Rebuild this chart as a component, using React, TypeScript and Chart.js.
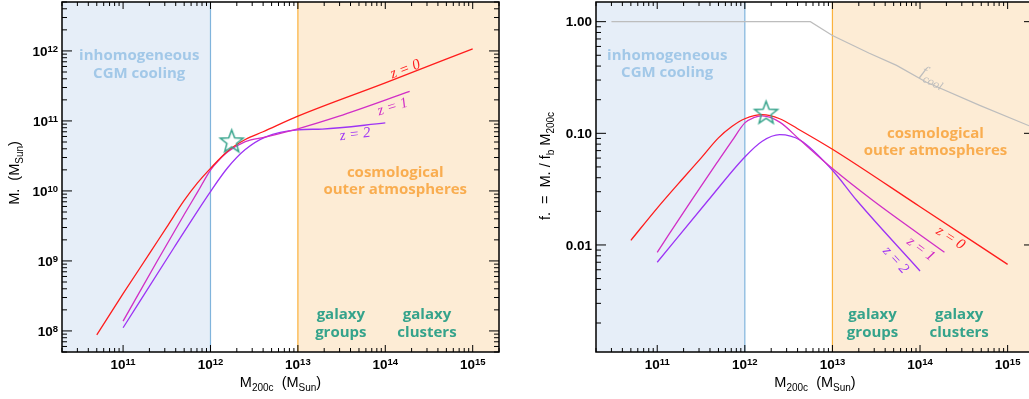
import { useEffect, useRef } from "react";
import { Chart, registerables } from "chart.js";

Chart.register(...registerables);

// ---------------------------------------------------------------------------
// Data
// ---------------------------------------------------------------------------

// Halo mass range shown on both panels (M_200c, M_Sun)
const X_MIN = 2e10;
const X_MAX = 2e15;

// Regime boundaries (M_Sun)
const CGM_EDGE = 1e12;
const GROUP_EDGE = 1e13;

// Left panel: condensed mass M* (M_Sun) vs halo mass, per redshift
const massZ0 = [5e10, 1e11, 2e11, 3.16e11, 5e11, 7.1e11, 1e12, 1.58e12, 2.5e12, 4e12, 1e13, 1e14, 1e15];
const mStarZ0 = [8.8e7, 3.4e8, 1.27e9, 3.05e9, 7.3e9, 1.3e10, 2.1e10, 3.72e10, 5.42e10, 7.0e10, 1.17e11, 3.5e11, 1.07e12];
const massZ1 = [1e11, 2.45e11, 5e11, 7.1e11, 1e12, 1.26e12, 1.58e12, 2.5e12, 4.3e12, 1e13, 2.9e13, 1.9e14];
const mStarZ1 = [1.38e8, 9.9e8, 4.6e9, 9.6e9, 1.99e10, 2.78e10, 3.62e10, 5.07e10, 5.92e10, 7.73e10, 1.16e11, 2.64e11];
const massZ2 = [1e11, 3.8e11, 1e12, 1.58e12, 2.5e12, 4.3e12, 1e13, 1.9e13, 1e14];
const mStarZ2 = [1.11e8, 1.53e9, 9.8e9, 2.16e10, 3.9e10, 5.92e10, 7.46e10, 7.66e10, 9.35e10];

// Right panel: f* = M* / (f_b M_200c), per redshift
const fMassZ0 = [5e10, 1e11, 2e11, 3.16e11, 5e11, 7.1e11, 1e12, 1.58e12, 2.5e12, 4e12, 1e13, 1e14, 1e15];
const fStarZ0 = [0.011, 0.0214, 0.04, 0.06, 0.091, 0.115, 0.135, 0.147, 0.135, 0.11, 0.072, 0.022, 0.0067];
const fMassZ1 = [1e11, 2.45e11, 5e11, 7.1e11, 1e12, 1.26e12, 1.58e12, 2.5e12, 4.3e12, 1e13, 2.9e13, 1.9e14];
const fStarZ1 = [0.0086, 0.025, 0.057, 0.085, 0.124, 0.138, 0.143, 0.126, 0.0867, 0.0483, 0.025, 0.0086];
const fMassZ2 = [1e11, 3.8e11, 1e12, 1.58e12, 2.5e12, 4.3e12, 1e13, 1.9e13, 1e14];
const fStarZ2 = [0.007, 0.025, 0.0614, 0.085, 0.0973, 0.0867, 0.0467, 0.025, 0.00585];

// Cooling fraction f_cool
const coolMass = [3e10, 5.6e12, 1e13, 2.6e13, 5.4e13, 1.17e14, 4.8e14, 2e15];
const coolFrac = [1, 1, 0.753, 0.524, 0.406, 0.288, 0.178, 0.112];

// Milky Way marker
const mwMass = [1.75e12];
const mwStar = [5.2e10];
const mwFrac = [0.155];

// Axis tick labels
const xTickExponents = [11, 12, 13, 14, 15];
const leftTickExponents = [8, 9, 10, 11, 12];
const rightTickValues = [0.01, 0.1, 1];
const rightTickLabels = ["0.01", "0.10", "1.00"];

// ---------------------------------------------------------------------------
// Styles
// ---------------------------------------------------------------------------

const RED = "#ff1c1c";
const MAGENTA = "#d12ec6";
const PURPLE = "#9d33f5";
const GRAY = "#bdbdbd";
const TEAL = "#35a38b";
const BLUE_FILL = "#e6eef8";
const BLUE_LINE = "#80b4dc";
const BLUE_TEXT = "#a2c8e8";
const ORANGE_FILL = "#fdecd5";
const ORANGE_LINE = "#fbb23c";
const ORANGE_TEXT = "#f9ad50";
const SANS = "'Liberation Sans', Arial, sans-serif";
const CAPTION_FONT = "'Open Sans', sans-serif";
const SERIF = "'Liberation Serif', 'Times New Roman', serif";

type Seg = { t: string; sub?: boolean };
type Caption = { lines: string[]; x: number; y: number; color: string };
type CurveLabel = { segs: Seg[]; x: number; y: number; angle: number; color: string; size?: number };

interface PanelSpec {
  yMin: number;
  yMax: number;
  yAxisWidth: number;
  padRight: number;
  yLabels: { value: number; base: string; sup?: string }[];
  yTitle: Seg[];
  yTitlePos: [number, number];
  captions: Caption[];
  curveLabels: CurveLabel[];
}

interface RichOpts {
  size: number;
  subSize: number;
  subDrop: number;
  family: string;
  style: string;
  color: string;
  angle: number;
}

function drawRich(ctx: CanvasRenderingContext2D, segs: Seg[], cx: number, cy: number, o: RichOpts) {
  ctx.save();
  ctx.translate(cx, cy);
  ctx.rotate((o.angle * Math.PI) / 180);
  const fontFor = (s: Seg) => `${o.style} ${s.sub ? o.subSize : o.size}px ${o.family}`;
  let total = 0;
  const widths = segs.map((s) => {
    ctx.font = fontFor(s);
    const w = ctx.measureText(s.t).width;
    total += w;
    return w;
  });
  let x = -total / 2;
  const base = o.size * 0.36;
  ctx.fillStyle = o.color;
  ctx.textAlign = "left";
  ctx.textBaseline = "alphabetic";
  segs.forEach((s, i) => {
    ctx.font = fontFor(s);
    ctx.fillText(s.t, x, base + (s.sub ? o.subDrop : 0));
    x += widths[i];
  });
  ctx.restore();
}

// "10" with a raised exponent (or plain text), anchored at x
function drawTickLabel(
  ctx: CanvasRenderingContext2D,
  base: string,
  sup: string | undefined,
  x: number,
  baseline: number,
  align: "center" | "right"
) {
  const baseFont = `bold 13.5px ${SANS}`;
  const supFont = `bold 9.5px ${SANS}`;
  ctx.font = baseFont;
  const w1 = ctx.measureText(base).width;
  ctx.font = supFont;
  const w2 = sup ? ctx.measureText(sup).width : 0;
  const total = w1 + w2;
  const start = align === "center" ? x - total / 2 : x - total;
  ctx.fillStyle = "#000";
  ctx.textAlign = "left";
  ctx.textBaseline = "alphabetic";
  ctx.font = baseFont;
  ctx.fillText(base, start, baseline);
  if (sup) {
    ctx.font = supFont;
    ctx.fillText(sup, start + w1, baseline - 4);
  }
}

function logTickValues(min: number, max: number) {
  const majors: number[] = [];
  const minors: number[] = [];
  for (let e = Math.floor(Math.log10(min)); e <= Math.ceil(Math.log10(max)); e++) {
    for (let k = 1; k < 10; k++) {
      const v = k * Math.pow(10, e);
      if (v < min * 0.9999 || v > max * 1.0001) continue;
      (k === 1 ? majors : minors).push(v);
    }
  }
  return { majors, minors };
}

function makeStar(r: number, color: string, lw: number) {
  const c = document.createElement("canvas");
  const s = Math.ceil(2 * r + 2 * lw + 2);
  c.width = s;
  c.height = s;
  const g = c.getContext("2d")!;
  g.translate(s / 2, s / 2 + r * 0.1);
  g.beginPath();
  for (let i = 0; i < 10; i++) {
    const rad = i % 2 === 0 ? r : r * 0.42;
    const a = -Math.PI / 2 + (i * Math.PI) / 5;
    g.lineTo(rad * Math.cos(a), rad * Math.sin(a));
  }
  g.closePath();
  g.strokeStyle = color;
  g.lineWidth = lw;
  g.lineJoin = "miter";
  g.stroke();
  return c;
}

function panelPlugin(spec: PanelSpec) {
  return {
    id: "panelDecor",
    beforeDatasetsDraw(chart: any) {
      const { ctx, chartArea: a, scales } = chart;
      const x = scales.x;
      const y = scales.y;
      const xb = x.getPixelForValue(CGM_EDGE);
      const xo = x.getPixelForValue(GROUP_EDGE);
      ctx.save();
      ctx.fillStyle = BLUE_FILL;
      ctx.fillRect(a.left, a.top, xb - a.left, a.bottom - a.top);
      ctx.fillStyle = ORANGE_FILL;
      ctx.fillRect(xo, a.top, a.right - xo, a.bottom - a.top);
      ctx.lineWidth = 1.2;
      ctx.strokeStyle = BLUE_LINE;
      ctx.beginPath();
      ctx.moveTo(xb, a.top);
      ctx.lineTo(xb, a.bottom);
      ctx.stroke();
      ctx.strokeStyle = ORANGE_LINE;
      ctx.beginPath();
      ctx.moveTo(xo, a.top);
      ctx.lineTo(xo, a.bottom);
      ctx.stroke();

      ctx.textAlign = "center";
      ctx.textBaseline = "middle";
      ctx.font = `bold 15px ${CAPTION_FONT}`;
      spec.captions.forEach((c) => {
        const cx = x.getPixelForValue(c.x);
        const cy = y.getPixelForValue(c.y);
        ctx.fillStyle = c.color;
        c.lines.forEach((line, i) => ctx.fillText(line, cx, cy + i * 17.5));
      });
      ctx.restore();
    },
    afterDatasetsDraw(chart: any) {
      const { ctx, chartArea: a, scales } = chart;
      const x = scales.x;
      const y = scales.y;
      ctx.save();

      // curve labels
      spec.curveLabels.forEach((l) => {
        const size = l.size ?? 15;
        drawRich(ctx, l.segs, x.getPixelForValue(l.x), y.getPixelForValue(l.y), {
          size,
          subSize: size * 0.75,
          subDrop: size * 0.3,
          family: SERIF,
          style: "italic",
          color: l.color,
          angle: l.angle,
        });
      });

      // frame
      ctx.strokeStyle = "#000";
      ctx.lineWidth = 1.5;
      ctx.strokeRect(a.left, a.top, a.right - a.left, a.bottom - a.top);

      // inward ticks on all four sides
      ctx.lineWidth = 1;
      const xt = logTickValues(X_MIN, X_MAX);
      const yt = logTickValues(spec.yMin, spec.yMax);
      const xTick = (v: number, len: number) => {
        const px = x.getPixelForValue(v);
        ctx.beginPath();
        ctx.moveTo(px, a.bottom);
        ctx.lineTo(px, a.bottom - len);
        ctx.moveTo(px, a.top);
        ctx.lineTo(px, a.top + len);
        ctx.stroke();
      };
      const yTick = (v: number, len: number) => {
        const py = y.getPixelForValue(v);
        ctx.beginPath();
        ctx.moveTo(a.left, py);
        ctx.lineTo(a.left + len, py);
        ctx.moveTo(a.right, py);
        ctx.lineTo(a.right - len, py);
        ctx.stroke();
      };
      xt.majors.forEach((v) => xTick(v, 7));
      xt.minors.forEach((v) => xTick(v, 4));
      yt.majors.forEach((v) => yTick(v, 10));
      yt.minors.forEach((v) => yTick(v, 5));

      // tick labels
      xTickExponents.forEach((e) => {
        drawTickLabel(ctx, "10", String(e), x.getPixelForValue(Math.pow(10, e)), a.bottom + 16.5, "center");
      });
      spec.yLabels.forEach((l) => {
        drawTickLabel(ctx, l.base, l.sup, a.left - 4, y.getPixelForValue(l.value) + 4.8, "right");
      });

      // axis titles
      const titleOpts = {
        size: 14.5,
        subSize: 10,
        subDrop: 3.5,
        family: SANS,
        style: "",
        color: "#000",
        angle: 0,
      };
      drawRich(
        ctx,
        [{ t: "M" }, { t: "200c", sub: true }, { t: "  (M" }, { t: "Sun", sub: true }, { t: ")" }],
        (a.left + a.right) / 2,
        382,
        titleOpts
      );
      drawRich(ctx, spec.yTitle, spec.yTitlePos[0], spec.yTitlePos[1], { ...titleOpts, angle: -90 });
      ctx.restore();
    },
  };
}

const zip = (xs: number[], ys: number[]) => xs.map((v, i) => ({ x: v, y: ys[i] }));

function lineSet(xs: number[], ys: number[], color: string, extra: any = {}) {
  return {
    data: zip(xs, ys),
    borderColor: color,
    borderWidth: 1.3,
    pointRadius: 0,
    fill: false,
    cubicInterpolationMode: "monotone",
    ...extra,
  };
}

function buildChart(canvas: HTMLCanvasElement, spec: PanelSpec, datasets: any[]) {
  return new Chart(canvas, {
    type: "line",
    data: { datasets },
    options: {
      responsive: false,
      animation: false,
      events: [],
      layout: { autoPadding: false, padding: { left: 0, top: 2, right: spec.padRight, bottom: 0 } },
      plugins: { legend: { display: false }, tooltip: { enabled: false } },
      scales: {
        x: {
          type: "logarithmic",
          min: X_MIN,
          max: X_MAX,
          bounds: "data",
          ticks: { display: false },
          grid: { display: false },
          border: { display: false },
          afterFit: (s: any) => {
            s.height = 47;
          },
        },
        y: {
          type: "logarithmic",
          min: spec.yMin,
          max: spec.yMax,
          bounds: "data",
          ticks: { display: false },
          grid: { display: false },
          border: { display: false },
          afterFit: (s: any) => {
            s.width = spec.yAxisWidth;
          },
        },
      },
    } as any,
    plugins: [panelPlugin(spec)],
  });
}

const regionCaptions = (
  blue: [number, number],
  orange: [number, number],
  groups: [number, number],
  clusters: [number, number]
): Caption[] => [
  { lines: ["inhomogeneous", "CGM cooling"], x: blue[0], y: blue[1], color: BLUE_TEXT },
  { lines: ["cosmological", "outer atmospheres"], x: orange[0], y: orange[1], color: ORANGE_TEXT },
  { lines: ["galaxy", "groups"], x: groups[0], y: groups[1], color: TEAL },
  { lines: ["galaxy", "clusters"], x: clusters[0], y: clusters[1], color: TEAL },
];

const leftSpec: PanelSpec = {
  yMin: 5e7,
  yMax: 5e12,
  yAxisWidth: 62,
  padRight: 11,
  yLabels: leftTickExponents.map((e) => ({ value: Math.pow(10, e), base: "10", sup: String(e) })),
  yTitle: [{ t: "M" }, { t: "." }, { t: "  (M" }, { t: "Sun", sub: true }, { t: ")" }],
  yTitlePos: [14, 173],
  captions: regionCaptions([1.53e11, 8.5e11], [1.3e14, 1.83e10], [3.1e13, 1.68e8], [3.0e14, 1.68e8]),
  curveLabels: [
    { segs: [{ t: "z = 0" }], x: 1.67e14, y: 5.7e11, angle: -21, color: RED },
    { segs: [{ t: "z = 1" }], x: 1.2e14, y: 1.65e11, angle: -17, color: MAGENTA },
    { segs: [{ t: "z = 2" }], x: 4.5e13, y: 6.7e10, angle: -7, color: PURPLE },
  ],
};

const rightSpec: PanelSpec = {
  yMin: 1.1e-3,
  yMax: 1.5,
  yAxisWidth: 66,
  padRight: 16,
  yLabels: rightTickValues.map((v, i) => ({ value: v, base: rightTickLabels[i] })),
  yTitle: [
    { t: "f" },
    { t: "." },
    { t: "  =  M" },
    { t: "." },
    { t: " / f" },
    { t: "b", sub: true },
    { t: " M" },
    { t: "200c", sub: true },
  ],
  yTitlePos: [15, 166],
  captions: regionCaptions([1.3e11, 0.5], [1.5e14, 0.1], [2.87e13, 0.00235], [2.8e14, 0.00235]),
  curveLabels: [
    { segs: [{ t: "z = 0" }], x: 2.27e14, y: 0.0118, angle: 33, color: RED },
    { segs: [{ t: "z = 1" }], x: 1.04e14, y: 0.0094, angle: 37, color: MAGENTA },
    { segs: [{ t: "z = 2" }], x: 5.4e13, y: 0.00745, angle: 48, color: PURPLE },
    { segs: [{ t: "f" }, { t: "cool", sub: true }], x: 1.44e14, y: 0.33, angle: 27, color: GRAY, size: 16 },
  ],
};

export default function App() {
  const leftRef = useRef<HTMLCanvasElement>(null);
  const rightRef = useRef<HTMLCanvasElement>(null);

  useEffect(() => {
    const star = makeStar(12, TEAL, 1.5);
    const starSet = (ys: number[]) => ({
      data: zip(mwMass, ys),
      showLine: false,
      pointStyle: star,
      pointRadius: 12,
      borderColor: TEAL,
      backgroundColor: "transparent",
    });

    const left = buildChart(leftRef.current!, leftSpec, [
      starSet(mwStar),
      lineSet(massZ0, mStarZ0, RED),
      lineSet(massZ1, mStarZ1, MAGENTA),
      lineSet(massZ2, mStarZ2, PURPLE),
    ]);
    const right = buildChart(rightRef.current!, rightSpec, [
      starSet(mwFrac),
      lineSet(fMassZ0, fStarZ0, RED),
      lineSet(fMassZ1, fStarZ1, MAGENTA),
      lineSet(fMassZ2, fStarZ2, PURPLE),
      lineSet(coolMass, coolFrac, GRAY, { cubicInterpolationMode: "default", tension: 0, borderWidth: 1.2 }),
    ]);
    return () => {
      left.destroy();
      right.destroy();
    };
  }, []);

  return (
    <div
      style={{
        position: "fixed",
        left: 0,
        top: 0,
        width: 1029,
        height: 399,
        overflow: "hidden",
        background: "#fff",
      }}
    >
      <canvas
        ref={leftRef}
        width={510}
        height={399}
        style={{ position: "absolute", left: 0, top: 0, width: 510, height: 399 }}
      />
      <canvas
        ref={rightRef}
        width={520}
        height={399}
        style={{ position: "absolute", left: 530, top: 0, width: 520, height: 399 }}
      />
    </div>
  );
}
